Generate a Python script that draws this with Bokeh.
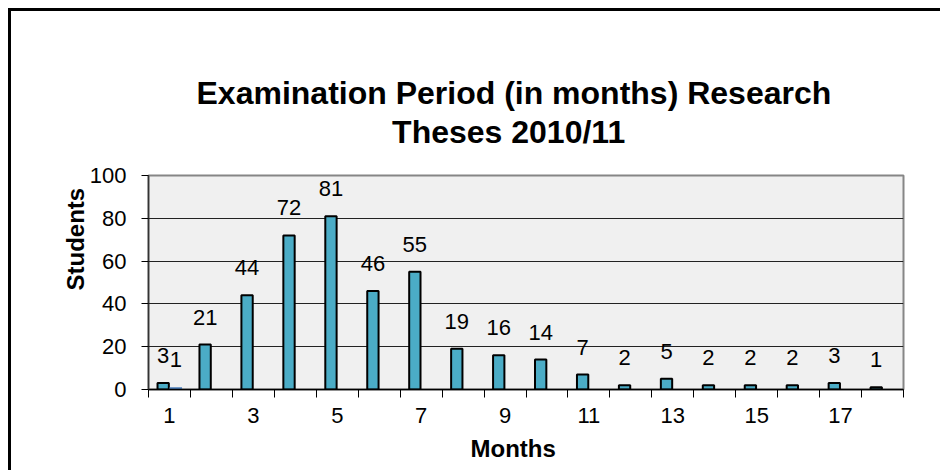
from bokeh.plotting import figure
from bokeh.models import (ColumnDataSource, Range1d, FixedTicker, Title)
from bokeh.core.properties import value
from bokeh.transform import dodge
from bokeh.embed import file_html
from bokeh.resources import INLINE

# ---- data ----
months = list(range(1, 19))
students = [3, 21, 44, 72, 81, 46, 55, 19, 16, 14, 7, 2, 5, 2, 2, 2, 3, 1]
second_months = [1]
second_students = [1]
odd_ticks = [1, 3, 5, 7, 9, 11, 13, 15, 17]
boundary_ticks = [m - 0.5 for m in months] + [18.5]
y_ticks = [0, 20, 40, 60, 80, 100]
title_lines = ["Examination Period (in months) Research", "Theses 2010/11"]

src1 = ColumnDataSource(dict(month=months, students=students,
                             label=[str(v) for v in students]))
src2 = ColumnDataSource(dict(month=second_months, students=second_students,
                             label=[str(v) for v in second_students]))

FONT = "Liberation Sans"

p = figure(width=932, height=462, output_backend="svg", toolbar_location=None,
           x_range=Range1d(0.5, 18.5), y_range=Range1d(0, 100),
           min_border_left=137, min_border_right=40,
           min_border_top=164, min_border_bottom=84,
           title=None,
           styles={"margin-left": "8px", "margin-top": "8px",
                   "border-left": "3px solid #000", "border-top": "3px solid #000"})

p.background_fill_color = "#f0f0f0"
p.border_fill_color = "white"
p.outline_line_color = "#868686"
p.outline_line_width = 2

# grid
p.xgrid.grid_line_color = None
p.ygrid.grid_line_color = "#222222"
p.ygrid.grid_line_width = 1.2
p.ygrid.ticker = FixedTicker(ticks=y_ticks)

# bars
p.vbar(x=dodge("month", -0.15, range=p.x_range), top="students", width=0.27,
       bottom=0, source=src1, fill_color="#4BACC6", line_color="black",
       line_width=2)
p.vbar(x=dodge("month", 0.15, range=p.x_range), top="students", width=0.3,
       bottom=0, source=src2, fill_color="#4A7EBB", line_color=None)

# data labels
for src, off in ((src1, -0.15), (src2, 0.15)):
    p.text(x=dodge("month", off, range=p.x_range), y="students", text="label",
           source=src, text_align="center", text_baseline="bottom",
           y_offset=-20, text_font_size="22px", text_font=value(FONT),
           text_color="black")

# x axis
xa = p.xaxis[0]
xa.ticker = FixedTicker(ticks=odd_ticks, minor_ticks=boundary_ticks)
xa.major_tick_out = 0
xa.major_tick_in = 0
xa.minor_tick_out = 8
xa.minor_tick_in = 0
xa.minor_tick_line_color = "black"
xa.minor_tick_line_width = 1
xa.axis_line_color = "black"
xa.axis_line_width = 1.5
xa.major_label_standoff = 10
xa.major_label_text_font = FONT
xa.major_label_text_font_size = "22px"
xa.major_label_text_color = "black"

# y axis
ya = p.yaxis[0]
ya.ticker = FixedTicker(ticks=y_ticks)
ya.major_tick_out = 7
ya.major_tick_in = 0
ya.minor_tick_line_color = None
ya.major_tick_line_color = "black"
ya.axis_line_color = "#333333"
ya.axis_line_width = 1.5
ya.major_label_standoff = 15
ya.major_label_text_font = FONT
ya.major_label_text_font_size = "22px"
ya.major_label_text_color = "black"

# axis titles (positioned off-centre like the reference)
p.add_layout(Title(text="Students", align="left", offset=99,
                   text_font=FONT, text_font_size="24px",
                   text_font_style="bold", text_color="black", standoff=-4), "left")
p.add_layout(Title(text="Months", align="left", offset=322,
                   text_font=FONT, text_font_size="24px",
                   text_font_style="bold", text_color="black", standoff=15), "below")

# chart title: one two-line title; second line centred under the first
# with non-breaking spaces
title_text = title_lines[0] + "\n" + "\u00a0" * 22 + title_lines[1]
p.add_layout(Title(text=title_text, align="left", offset=48,
                   text_font=FONT, text_font_size="32px", text_line_height=1.1,
                   text_font_style="bold", text_color="black", standoff=50), "above")

open("out.html", "w").write(file_html(p, INLINE))
